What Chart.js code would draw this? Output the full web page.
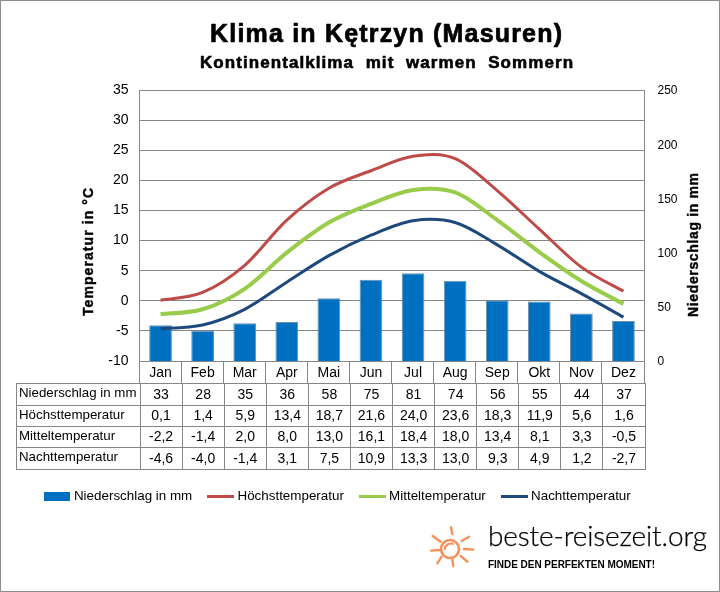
<!DOCTYPE html>
<html><head><meta charset="utf-8">
<style>html,body{margin:0;padding:0;background:#fff}canvas{display:block}</style>
<script src="https://cdn.jsdelivr.net/npm/chart.js@4"></script></head>
<body><div style="width:720px;height:592px;position:relative"><canvas id="c" width="720" height="592"></canvas></div>
<script>
const months=['Jan','Feb','Mar','Apr','Mai','Jun','Jul','Aug','Sep','Okt','Nov','Dez'];
const rain=[33,28,35,36,58,75,81,74,56,55,44,37];
const high=[0.1,1.4,5.9,13.4,18.7,21.6,24.0,23.6,18.3,11.9,5.6,1.6];
const mean=[-2.2,-1.4,2.0,8.0,13.0,16.1,18.4,18.0,13.4,8.1,3.3,-0.5];
const low=[-4.6,-4.0,-1.4,3.1,7.5,10.9,13.3,13.0,9.3,4.9,1.2,-2.7];
const names=['Niederschlag in mm','Höchsttemperatur','Mitteltemperatur','Nachttemperatur'];
const tempTicks=[35,30,25,20,15,10,5,0,-5,-10];
const rainTicks=[250,200,150,100,50,0];
const AR='"Liberation Sans"';
const GRAY='#868686';
function swatch(w,h,col){const s=document.createElement('canvas');s.width=w;s.height=h;const x=s.getContext('2d');x.fillStyle=col;x.fillRect(0,0,w,h);return s;}
function fit(c,text,x,y,width,font,stroke,rot){
 c.save();c.font=font;c.textAlign='left';c.textBaseline='alphabetic';c.fillStyle='#000';c.strokeStyle='#000';
 c.letterSpacing='0px';
 const m=c.measureText(text).width;
 c.letterSpacing=((width-m)/(text.length-1)).toFixed(3)+'px';
 c.translate(x,y);if(rot)c.rotate(rot);
 c.fillText(text,0,0);
 if(stroke){c.lineWidth=stroke;c.lineJoin='round';c.strokeText(text,0,0);}
 c.restore();
}
const tablePlugin={id:'tbl',
 afterLayout(ch){const l=ch.legend;l.left-=21;l.right-=21;l.top+=1;},
 beforeDatasetsDraw(ch){
  // Uniform spline between the points the scales placed (the smoothing style of the original)
  ch.getSortedVisibleDatasetMetas().forEach(m=>{
   if(m.type!=='line')return;
   const ln=m.dataset,p=m.data;
   ln.updateControlPoints(ch.chartArea,'x');
   p.forEach((pt,i)=>{
    const a=p[Math.max(i-1,0)],b=p[Math.min(i+1,p.length-1)];
    const dx=(b.x-a.x)/6,dy=(b.y-a.y)/6;
    pt.cp1x=pt.x-dx;pt.cp1y=pt.y-dy;pt.cp2x=pt.x+dx;pt.cp2y=pt.y+dy;
   });
  });
 },
 afterDraw(ch){
  const c=ch.ctx,xs=ch.scales.x,bot=Math.round(ch.chartArea.bottom);
  c.save();
  fit(c,'Klima in Kętrzyn (Masuren)',210,41.7,352,'bold 25px '+AR,0.7);
  fit(c,'Kontinentalklima  mit  warmen  Sommern',200,68.3,373,'bold 17px '+AR,0.6);
  fit(c,'Temperatur in °C',93,316,128,'bold 14px '+AR,0.4,-Math.PI/2);
  fit(c,'Niederschlag in mm',698,317,144,'bold 14px '+AR,0.4,-Math.PI/2);
  c.strokeStyle=GRAY;c.lineWidth=1;
  const step=xs.getPixelForValue(1)-xs.getPixelForValue(0);
  const edges=[];for(let i=0;i<=12;i++)edges.push(Math.round(xs.getPixelForValue(0)-step/2+i*step));
  const hb=383;
  c.beginPath();
  edges.forEach(e=>{c.moveTo(e-.5,bot);c.lineTo(e-.5,hb);});
  const rows=[383.5,405.5,426.5,447.5,469.5];
  rows.forEach(y=>{c.moveTo(16.5,y);c.lineTo(edges[12]+.5,y);});
  c.moveTo(16.5,383);c.lineTo(16.5,470);
  edges.forEach(e=>{c.moveTo(e+.5,383);c.lineTo(e+.5,470);});
  c.stroke();
  c.fillStyle='#000';c.textBaseline='middle';
  const vals=[rain,high,mean,low];
  vals.forEach((v,r)=>{
   const y=(rows[r]+rows[r+1])/2;
   c.textAlign='left';c.font='13.3px '+AR;c.fillText(names[r],19,y-1);
   c.textAlign='center';c.font='14px '+AR;
   v.forEach((d,i)=>c.fillText(r===0?String(d):d.toFixed(1).replace('.',','),xs.getPixelForValue(i)+.5,y+.5));
  });
  // logo
  const ox=420,oy=510;
  c.strokeStyle='#F5915A';c.lineCap='round';c.lineWidth=2.6;
  c.beginPath();c.arc(ox+30,oy+39,9,0,Math.PI*2);c.stroke();
  c.lineWidth=2.2;
  c.beginPath();c.arc(ox+31,oy+40,6.5,Math.PI*1.05,Math.PI*1.6);c.stroke();
  c.lineWidth=2.4;
  [[93,52,97,72],[125,93,147,80],[132,117,160,119],[122,138,142,155],[97,150,100,168],[65,140,52,160],[33,122,57,120],[38,78,62,95]].forEach(a=>{
   c.beginPath();c.moveTo(ox+a[0]/3,oy+a[1]/3);c.lineTo(ox+a[2]/3,oy+a[3]/3);c.stroke();
  });
  fit(c,'beste-reisezeit.org',488,546,219,'300 28px Lato',0.25);
  fit(c,'FINDE DEN PERFEKTEN MOMENT!',488,568.3,167,'bold 10px '+AR,0);
  c.strokeStyle='#8c8c8c';c.lineWidth=1;c.strokeRect(.5,.5,719,591);
  c.restore();
 }};
Chart.defaults.animation=false;
new Chart(document.getElementById('c'),{
 type:'bar',
 data:{labels:months,datasets:[
  {type:'bar',label:names[0],data:rain,yAxisID:'y1',backgroundColor:'#0070C0',borderColor:'#6f8ea8',borderWidth:1,barPercentage:.54,categoryPercentage:1,order:4,pointStyle:swatch(26,9,'#0070C0')},
  {type:'line',label:names[1],data:high,yAxisID:'y',borderColor:'#BE4B48',borderWidth:3,tension:.33,pointRadius:0,order:3,pointStyle:swatch(27,3,'#BE4B48')},
  {type:'line',label:names[2],data:mean,yAxisID:'y',borderColor:'#98CC4A',borderWidth:4,tension:.33,pointRadius:0,order:2,pointStyle:swatch(27,3,'#98CC4A')},
  {type:'line',label:names[3],data:low,yAxisID:'y',borderColor:'#1F497D',borderWidth:3,tension:.33,pointRadius:0,order:1,pointStyle:swatch(27,3,'#1F497D')}
 ]},
 plugins:[tablePlugin],
 options:{responsive:false,animation:false,devicePixelRatio:1,
  layout:{padding:{top:90,left:0,right:0,bottom:80}},
  plugins:{
   title:{display:false},
   legend:{position:'bottom',labels:{usePointStyle:true,pointStyleWidth:20,padding:18.5,color:'#000',font:{family:AR,size:13.4},sort:(a,b)=>a.datasetIndex-b.datasetIndex}},
   tooltip:{enabled:false}
  },
  scales:{
   x:{position:'bottom',grid:{display:false,drawTicks:false,tickLength:0},border:{display:false},offset:true,
      afterFit(s){s.height=109;},
      ticks:{color:'#000',font:{family:AR,size:14},padding:4,maxRotation:0,autoSkip:false}},
   y:{position:'left',min:-10,max:35,
      afterFit(s){s.width=139.5;},
      afterBuildTicks(s){s.ticks=tempTicks.map(v=>({value:v}));},
      grid:{color:GRAY,drawTicks:false},border:{color:GRAY},
      ticks:{color:'#000',padding:11,font:{family:AR,size:14}}},
   y1:{position:'right',min:0,max:250,
      afterFit(s){s.width=75.5;},
      afterBuildTicks(s){s.ticks=rainTicks.map(v=>({value:v}));},
      grid:{display:false,drawTicks:false},border:{color:GRAY},
      ticks:{color:'#000',padding:13,labelOffset:1,font:{family:AR,size:12}}}
  }
 }
});
</script></body></html>
